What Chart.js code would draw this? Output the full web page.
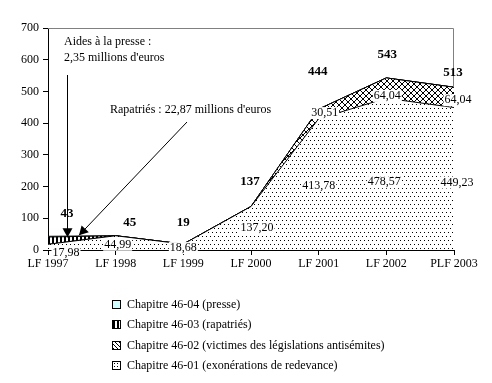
<!DOCTYPE html>
<html><head><meta charset="utf-8">
<script src="https://cdn.jsdelivr.net/npm/chart.js@4/dist/chart.umd.min.js"></script>
<style>
html,body{margin:0;padding:0;background:#fff;}
#wrap{position:relative;width:492px;height:383px;}
#legend{position:absolute;left:112px;top:294px;font-family:"Liberation Serif","Times New Roman",serif;font-size:12px;color:#000;}
#legend div{height:20.3px;line-height:20px;white-space:nowrap;}
#legend span.sw{display:inline-block;width:7px;height:7px;border:1px solid #000;margin-right:6px;vertical-align:-1px;}
</style></head>
<body><div id="wrap"><canvas id="c" width="492" height="383"></canvas><div id="legend"></div></div>
<script>
const categories = ['LF 1997','LF 1998','LF 1999','LF 2000','LF 2001','LF 2002','PLF 2003'];
const ch4601 = [17.98, 44.99, 18.68, 137.20, 413.78, 478.57, 449.23];
const ch4602 = [0, 0, 0, 0, 30.51, 64.04, 64.04];
const ch4603 = [22.87, 0, 0, 0, 0, 0, 0];
const ch4604 = [2.35, 0, 0, 0, 0, 0, 0];
const totals = [43, 45, 19, 137, 444, 543, 513];
const yTicks = [0,100,200,300,400,500,600,700];
const seriesNames = ['Chapitre 46-01 (exonérations de redevance)','Chapitre 46-02 (victimes des législations antisémites)','Chapitre 46-03 (rapatriés)','Chapitre 46-04 (presse)'];

const FONT = '"Liberation Serif","Times New Roman",serif';

function tile(w,h,draw){const c=document.createElement('canvas');c.width=w;c.height=h;const g=c.getContext('2d');g.fillStyle='#fff';g.fillRect(0,0,w,h);g.fillStyle='#000';draw(g);return c;}
const ctx0 = document.getElementById('c').getContext('2d');
const dotsTile = tile(8,8,g=>{g.fillRect(0,0,1,1);g.fillRect(4,0,1,1);g.fillRect(2,4,1,1);g.fillRect(6,4,1,1);});
const crossTile = tile(6,6,g=>{for(let i=0;i<6;i++){g.fillRect(i,i,1,1);g.fillRect(5-i,i,1,1);}});
const stripeTile = tile(4,4,g=>{g.fillRect(0,0,2,4);});
const pDots = ctx0.createPattern(dotsTile,'repeat');
const pCross = ctx0.createPattern(crossTile,'repeat');
const pStripe = ctx0.createPattern(stripeTile,'repeat');

const fmt = v => v.toFixed(2).replace('.',',');

const labelsPlugin = {
  id:'labelsPlugin',
  afterDatasetsDraw(chart){
    const c = chart.ctx, x = chart.scales.x, y = chart.scales.y, a = chart.chartArea;
    c.save();
    c.strokeStyle='#808080'; c.lineWidth=1;
    c.beginPath(); c.moveTo(a.left, a.top+0.5); c.lineTo(a.right-0.5, a.top+0.5); c.lineTo(a.right-0.5, y.getPixelForValue(ch4601[6]+ch4602[6])); c.stroke();
    c.textAlign='center'; c.textBaseline='middle';
    c.font = '12px '+FONT;
    function boxed(t,px,py){
      const w = c.measureText(t).width;
      c.fillStyle='#fff'; c.fillRect(px-w/2-1, py-6, w+2, 12); c.fillStyle='#000';
      c.fillText(t, px, py);
    }
    const off01 = [[18,9],[2,9],[0,4],[6,21],[0,67],[-2,84],[3,75]];
    ch4601.forEach((v,i)=>{
      boxed(fmt(v), x.getPixelForValue(i)+off01[i][0], y.getPixelForValue(v)+off01[i][1]);
    });
    const off02 = {4:[6,4],5:[1,18],6:[4,13]};
    ch4602.forEach((v,i)=>{
      if(!v) return;
      boxed(fmt(v), x.getPixelForValue(i)+off02[i][0], y.getPixelForValue(v+ch4601[i])+off02[i][1]);
    });
    c.fillStyle='#000';
    c.font = 'bold 13px '+FONT;
    const offT = [[19,-23],[14,-13],[0,-21],[-1,-25],[-1,-37],[1,-23],[-1,-15]];
    totals.forEach((v,i)=>{
      const s = ch4601[i]+ch4602[i]+ch4603[i]+ch4604[i];
      c.fillText(String(v), x.getPixelForValue(i)+offT[i][0], y.getPixelForValue(s)+offT[i][1]);
    });
    c.font = '12px '+FONT; c.textAlign='left';
    c.fillText('Aides à la presse :', 64, 42);
    c.fillText("2,35 millions d'euros", 64, 58);
    c.fillText("Rapatriés : 22,87 millions d'euros", 110, 110);
    function arrow(x1,y1,x2,y2){
      c.strokeStyle='#000'; c.lineWidth=1;
      c.beginPath(); c.moveTo(x1,y1); c.lineTo(x2,y2); c.stroke();
      const ang = Math.atan2(y2-y1,x2-x1), L=9, W=5;
      c.beginPath(); c.moveTo(x2,y2);
      c.lineTo(x2-L*Math.cos(ang)+W*Math.sin(ang), y2-L*Math.sin(ang)-W*Math.cos(ang));
      c.lineTo(x2-L*Math.cos(ang)-W*Math.sin(ang), y2-L*Math.sin(ang)+W*Math.cos(ang));
      c.closePath(); c.fill();
    }
    const x0 = x.getPixelForValue(0);
    arrow(x0+19.5, 75, x0+19.5, y.getPixelForValue(totals[0])+1);
    arrow(187, 122, x0+31, y.getPixelForValue(totals[0])-1);
    c.restore();
  }
};

new Chart(document.getElementById('c'), {
  type:'line',
  data:{
    labels: categories,
    datasets:[
      {label:seriesNames[0], data:ch4601, fill:'origin', backgroundColor:pDots, borderColor:'#000', borderWidth:1, pointRadius:0, tension:0},
      {label:seriesNames[1], data:ch4602, fill:'-1', backgroundColor:pCross, borderColor:'#000', borderWidth:1, pointRadius:0, tension:0},
      {label:seriesNames[2], data:ch4603, fill:'-1', backgroundColor:pStripe, borderColor:'#000', borderWidth:1, pointRadius:0, tension:0},
      {label:seriesNames[3], data:ch4604, fill:'-1', backgroundColor:'#ccffff', borderColor:'#000', borderWidth:1, pointRadius:0, tension:0}
    ]
  },
  options:{
    responsive:false, animation:false, devicePixelRatio:1,
    layout:{padding:{top:28,right:38,left:0,bottom:0}},
    plugins:{legend:{display:false}, tooltip:{enabled:false}},
    scales:{
      x:{
        grid:{drawOnChartArea:false, drawTicks:true, tickLength:5, color:'#000'},
        border:{display:true,color:'#000'},
        ticks:{color:'#000', font:{family:FONT,size:12}, maxRotation:0, autoSkip:false, padding:2},
        afterFit(s){s.height=133;}
      },
      y:{
        stacked:true, min:0, max:700,
        afterBuildTicks(s){s.ticks = yTicks.map(v=>({value:v}));},
        grid:{drawOnChartArea:false, drawTicks:true, tickLength:5, color:'#000'},
        border:{display:true,color:'#000'},
        ticks:{color:'#000', font:{family:FONT,size:12}, padding:4},
        afterFit(s){s.width=48;}
      }
    }
  },
  plugins:[labelsPlugin]
});

const swatches = ['#ccffff','repeating-linear-gradient(90deg,#000 0 2px,#fff 2px 4px)','repeating-linear-gradient(45deg,#000 0 1px,#fff 1px 3px),#fff','radial-gradient(#000 0.6px,transparent 0.8px) 0 0/3px 3px,#fff'];
const lg = document.getElementById('legend');
[3,2,1,0].forEach((k,j)=>{
  const d=document.createElement('div');
  const s=document.createElement('span'); s.className='sw'; s.style.background=swatches[j];
  d.appendChild(s); d.appendChild(document.createTextNode(seriesNames[k])); lg.appendChild(d);
});
</script></body></html>
